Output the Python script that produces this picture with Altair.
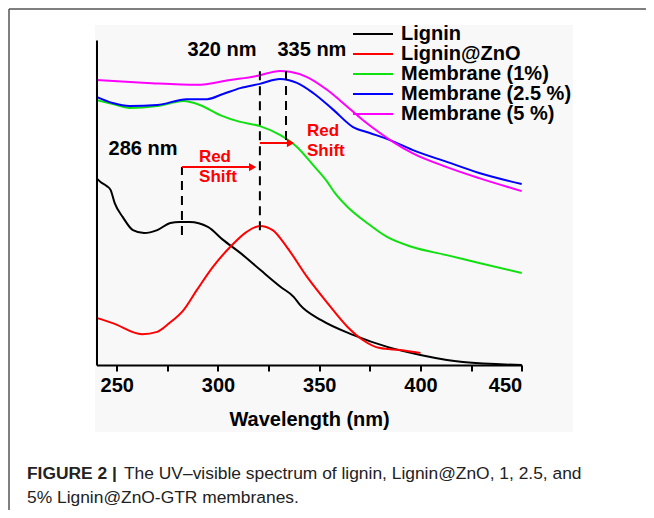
import altair as alt
import pandas as pd

FONT = "Liberation Sans"

# ---- spectra (wavelength nm, absorbance a.u.) ----
wl_lignin = [240, 242, 245, 247, 249, 253, 258, 263.5, 270, 276.5, 281, 286, 295, 302.5, 311, 321, 331, 337.5, 340.5, 351, 367, 384, 400, 421, 450]
ab_lignin = [0.575, 0.563, 0.551, 0.538, 0.498, 0.455, 0.415, 0.406, 0.415, 0.437, 0.440, 0.440, 0.425, 0.385, 0.345, 0.292, 0.240, 0.209, 0.185, 0.138, 0.092, 0.055, 0.031, 0.009, 0.0]

wl_znO = [240, 248, 262.5, 270, 276, 283, 289.6, 297.5, 306, 314, 320.7, 327, 334, 344, 354, 364, 371.5, 380, 390, 400]
ab_znO = [0.145, 0.129, 0.095, 0.102, 0.129, 0.169, 0.231, 0.302, 0.363, 0.409, 0.428, 0.415, 0.363, 0.271, 0.191, 0.117, 0.077, 0.052, 0.046, 0.037]

wl_m1 = [240, 248, 256.5, 270, 283, 291, 301, 311, 320.7, 330.6, 339, 347, 353.8, 358, 364, 373.6, 383.5, 396, 413, 429, 450]
ab_m1 = [0.815, 0.803, 0.791, 0.797, 0.812, 0.800, 0.769, 0.748, 0.735, 0.708, 0.671, 0.615, 0.565, 0.527, 0.486, 0.437, 0.394, 0.363, 0.338, 0.314, 0.283]

wl_m25 = [240, 248, 256.5, 270, 284.6, 294.6, 302.5, 311, 320.7, 330.6, 339, 347, 357, 366.7, 375, 385, 396, 413, 429, 450]
ab_m25 = [0.825, 0.806, 0.797, 0.800, 0.818, 0.818, 0.834, 0.852, 0.865, 0.880, 0.868, 0.837, 0.785, 0.732, 0.714, 0.692, 0.662, 0.625, 0.591, 0.557]

wl_m5 = [240, 265, 289.6, 306, 319, 330.6, 335.6, 344, 354, 364, 371.5, 380, 386.6, 396, 413, 429, 450]
ab_m5 = [0.877, 0.868, 0.862, 0.877, 0.889, 0.905, 0.902, 0.886, 0.846, 0.794, 0.754, 0.714, 0.686, 0.652, 0.609, 0.575, 0.535]

series_names = ["Lignin", "Lignin@ZnO", "Membrane (1%)", "Membrane (2.5 %)", "Membrane (5 %)"]
series_colors = ["#000000", "#ff0000", "#10e010", "#0000ff", "#ff00ff"]

# ---- annotations ----
marker_wl = [282.2, 320.7, 333.6]
marker_lo = [0.400, 0.415, 0.692]
marker_hi = [0.609, 0.917, 0.923]

peak_text = ["286 nm", "320 nm", "335 nm"]
peak_wl = [263.0, 302.0, 346.4]
peak_ab = [0.665, 0.969, 0.969]

shift_text = ["Red", "Shift", "Red", "Shift"]
shift_wl = [298.5, 300.0, 351.9, 353.3]
shift_ab = [0.640, 0.578, 0.720, 0.658]

arrow_start = [282.2, 320.7]
arrow_head = [317.1, 335.8]
arrow_ab = [0.609, 0.683]

x_ticks = [250, 275, 300, 325, 350, 375, 400, 425, 450]

caption_bold = "FIGURE 2 |"
caption_line1 = "The UV\u2013visible spectrum of lignin, Lignin@ZnO, 1, 2.5, and"
caption_line2 = "5% Lignin@ZnO-GTR membranes."

# ---- build tables ----
rows = []
for name, wls, abs_ in [
    ("Lignin", wl_lignin, ab_lignin),
    ("Lignin@ZnO", wl_znO, ab_znO),
    ("Membrane (1%)", wl_m1, ab_m1),
    ("Membrane (2.5 %)", wl_m25, ab_m25),
    ("Membrane (5 %)", wl_m5, ab_m5),
]:
    for w, a in zip(wls, abs_):
        rows.append({"series": name, "wavelength": w, "absorbance": a})
spec = pd.DataFrame(rows)

markers = pd.DataFrame({"wavelength": marker_wl, "lo": marker_lo, "hi": marker_hi})
peaks = pd.DataFrame({"text": peak_text, "wavelength": peak_wl, "absorbance": peak_ab})
shifts = pd.DataFrame({"text": shift_text, "wavelength": shift_wl, "absorbance": shift_ab})
arrows = pd.DataFrame({"start": arrow_start, "head": arrow_head, "absorbance": arrow_ab})

W, H = 425.2, 325
OX, OY = 96.5, 40  # plot origin on the page

xscale = alt.Scale(domain=[240, 450], nice=False, zero=False)
yscale = alt.Scale(domain=[0, 1], nice=False, zero=False)

one = alt.Data(values=[{"k": 1}])

background = alt.Chart(one).mark_rect(color="#f8f8f8").encode(
    x=alt.value(95 - OX), x2=alt.value(573 - OX),
    y=alt.value(25 - OY), y2=alt.value(432 - OY),
)

frame_top = alt.Chart(one).mark_rule(color="#555555", strokeWidth=1.5).encode(
    x=alt.value(9 - OX), x2=alt.value(660 - OX), y=alt.value(9 - OY)
)
frame_left = alt.Chart(one).mark_rule(color="#555555", strokeWidth=1.5).encode(
    x=alt.value(9 - OX), y=alt.value(9 - OY), y2=alt.value(530 - OY)
)

lines = alt.Chart(spec).mark_line(strokeWidth=2, interpolate="monotone").encode(
    x=alt.X("wavelength:Q", scale=xscale,
            axis=alt.Axis(values=x_ticks,
                          labelExpr="datum.value % 50 === 0 ? datum.label : ''",
                          title="Wavelength (nm)", grid=False, zindex=2,
                          tickSize=6, tickWidth=2, tickColor="black",
                          domainWidth=2, domainColor="black",
                          labelFont=FONT, labelFontSize=20, labelFontWeight="bold",
                          labelColor="black", labelPadding=4,
                          titleFont=FONT, titleFontSize=20, titleFontWeight="bold",
                          titleColor="black", titlePadding=14)),
    y=alt.Y("absorbance:Q", scale=yscale,
            axis=alt.Axis(labels=False, ticks=False, title=None, grid=False, zindex=2,
                          domainWidth=2, domainColor="black")),
    color=alt.Color("series:N",
                    scale=alt.Scale(domain=series_names, range=series_colors),
                    sort=series_names,
                    legend=alt.Legend(title=None, orient="none",
                                      legendX=266.5, legendY=-16,
                                      symbolType="M-4,0H4", symbolSize=100,
                                      symbolStrokeWidth=2, padding=0,
                                      labelFont=FONT, labelFontSize=20,
                                      labelFontWeight="bold", labelColor="black",
                                      labelOffset=18, rowPadding=-3,
                                      labelLimit=300)),
    detail="series:N",
)

dashes = alt.Chart(markers).mark_rule(color="black", strokeWidth=2, strokeDash=[9, 6]).encode(
    x=alt.X("wavelength:Q", scale=xscale),
    y=alt.Y("lo:Q", scale=yscale),
    y2="hi:Q",
)

peak_labels = alt.Chart(peaks).mark_text(font=FONT, fontSize=20, fontWeight="bold",
                                         color="black", align="center", baseline="middle").encode(
    x=alt.X("wavelength:Q", scale=xscale),
    y=alt.Y("absorbance:Q", scale=yscale),
    text="text:N",
)

shift_labels = alt.Chart(shifts).mark_text(font=FONT, fontSize=17, fontWeight="bold",
                                           color="#ff0000", align="center", baseline="middle").encode(
    x=alt.X("wavelength:Q", scale=xscale),
    y=alt.Y("absorbance:Q", scale=yscale),
    text="text:N",
)

arrow_shaft = alt.Chart(arrows).mark_rule(color="#ff0000", strokeWidth=2).encode(
    x=alt.X("start:Q", scale=xscale),
    x2="head:Q",
    y=alt.Y("absorbance:Q", scale=yscale),
)
arrow_tip = alt.Chart(arrows).mark_point(shape="triangle-right", filled=True, size=70,
                                         color="#ff0000", opacity=1).encode(
    x=alt.X("head:Q", scale=xscale),
    y=alt.Y("absorbance:Q", scale=yscale),
)

cap_style = dict(font=FONT, fontSize=17.4, color="#222222", align="left", baseline="middle")
cap1a = alt.Chart(one).mark_text(fontWeight="bold", text=caption_bold, **cap_style).encode(
    x=alt.value(27 - OX), y=alt.value(474 - OY))
cap1b = alt.Chart(one).mark_text(text=caption_line1, **cap_style).encode(
    x=alt.value(124 - OX), y=alt.value(474 - OY))
cap2 = alt.Chart(one).mark_text(text=caption_line2, **cap_style).encode(
    x=alt.value(27 - OX), y=alt.value(498 - OY))

chart = alt.layer(
    background, frame_top, frame_left, lines, dashes, arrow_shaft, arrow_tip,
    peak_labels, shift_labels, cap1a, cap1b, cap2,
).properties(
    width=W, height=H,
    autosize=alt.AutoSizeParams(type="none"),
    padding={"left": OX - 8, "top": OY - 8, "right": 638 - (OX - 8) - W, "bottom": 502 - (OY - 8) - H},
    background="white",
).configure_view(stroke=None)

chart.save("out.html", embed_options={"renderer": "svg", "actions": False})
